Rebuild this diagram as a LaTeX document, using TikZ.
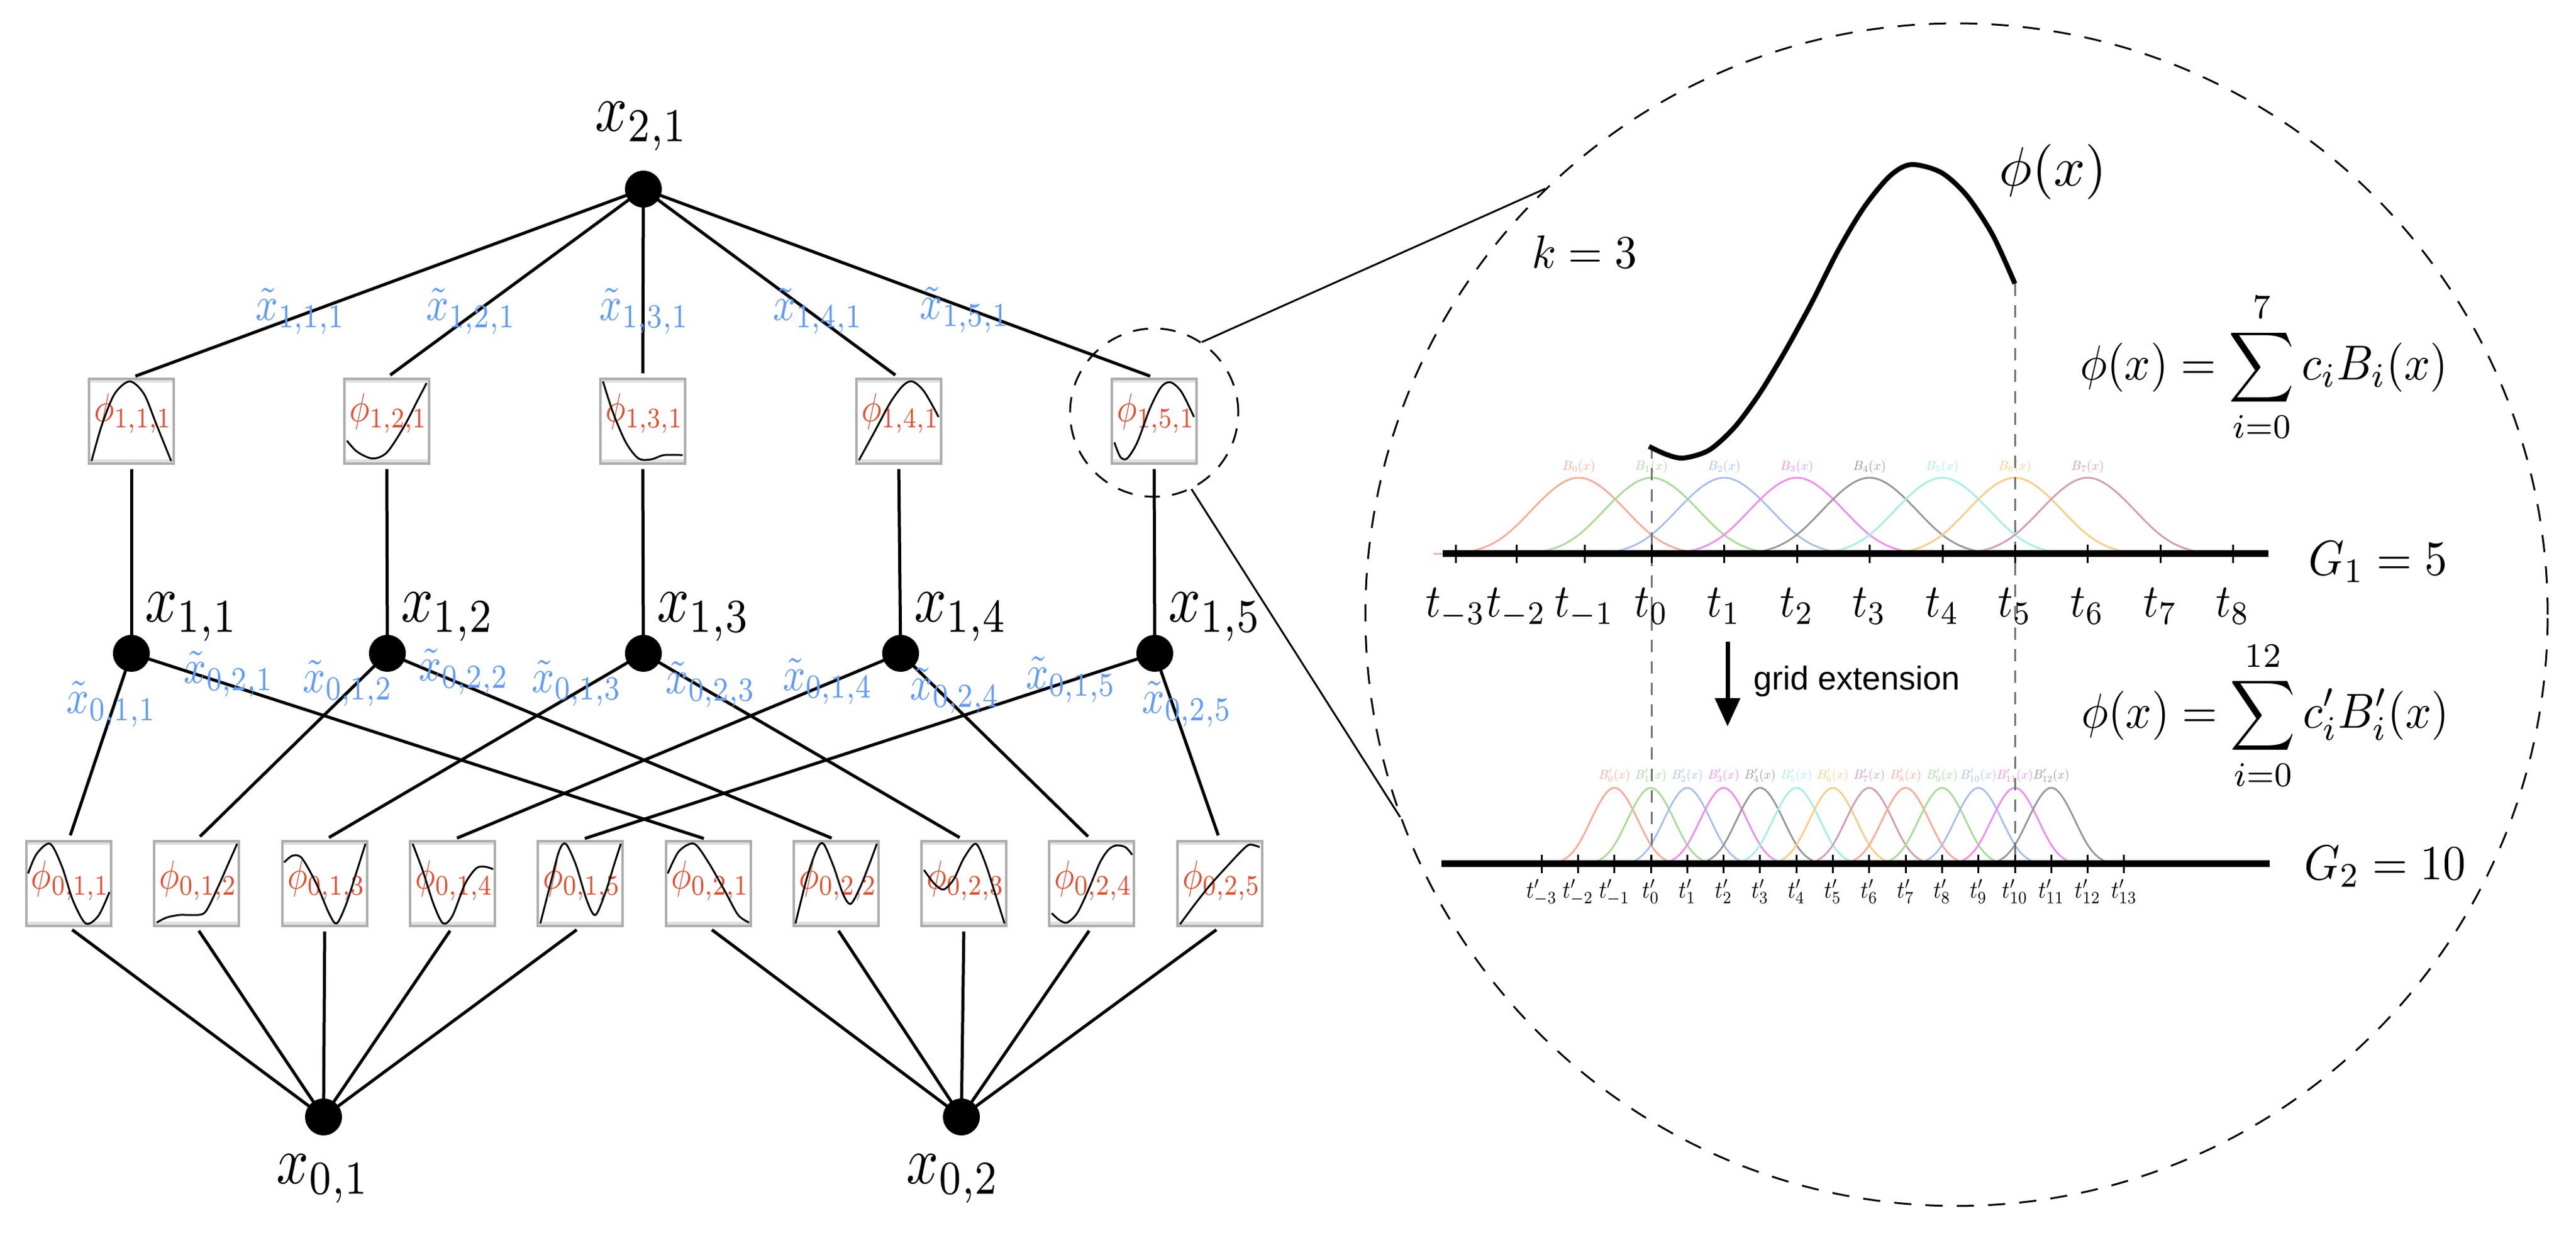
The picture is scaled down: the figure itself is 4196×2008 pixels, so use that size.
\RequirePackage{fix-cm}
\documentclass[tikz,border=0pt]{standalone}
\usepackage{graphicx}
\usepackage{fontspec}
\newfontfamily\helv{Liberation Sans}
\usetikzlibrary{arrows.meta}
\newcommand{\kfs}[1]{\fontsize{#1}{#1}\selectfont}
\newcommand{\sbx}[3]{\scalebox{#1}[#2]{#3}}
\definecolor{kblue}{RGB}{95,155,250}
\definecolor{kred}{RGB}{230,75,45}
\definecolor{bc0}{RGB}{250,170,150}
\definecolor{bc1}{RGB}{165,220,150}
\definecolor{bc2}{RGB}{165,190,240}
\definecolor{bc3}{RGB}{240,140,240}
\definecolor{bc4}{RGB}{150,150,150}
\definecolor{bc5}{RGB}{160,240,230}
\definecolor{bc6}{RGB}{250,205,130}
\definecolor{bc7}{RGB}{210,155,180}
\newcommand{\redlab}[1]{\sbx{0.55}{0.66}{$\phi_{#1}$}}
\newcommand{\bluelab}[1]{\sbx{0.64}{0.78}{$\tilde{x}_{#1}$}}
\newcommand{\nodelab}[1]{\sbx{0.92}{1.1}{$x_{#1}$}}
\newcommand{\rtx}[1]{\sbx{0.74}{0.8}{$\displaystyle #1$}}
\newcommand{\kanbox}[6]{%
  \node[kbox] (#1) at (#2,#3) {};
  \fill[boxband] (#2-68,#3-68) rectangle (#2+68,#3-63);
  \fill[boxband] (#2-68,#3+62) rectangle (#2+68,#3+68);
  \draw[boxframe] (#2-69,#3-69) rectangle (#2+69,#3+69);
  \node[boxlab,anchor=west] (#1l) at (#2-63,#3-#5) {\redlab{#4}};
  \draw[boxcurve,shift={(#2-69,#3+69)},x=13.8pt,y=13.8pt] plot[smooth] coordinates {#6};
}
\begin{document}
\begin{tikzpicture}[x=0.1pt,y=-0.1pt,
  declare function={bsp(\u)=(abs(\u)<1) ? (2/3-\u*\u+abs(\u)*abs(\u)*abs(\u)/2) : ((2-abs(\u))*(2-abs(\u))*(2-abs(\u))/6);},
  dot/.style={circle,fill=black,inner sep=0pt,minimum size=6pt},
  kbox/.style={fill=white,inner sep=0pt,minimum size=13.8pt},
  boxband/.style={black!12},
  boxframe/.style={draw=black!32,line width=0.4pt},
  boxlab/.style={text=kred,inner sep=0pt},
  boxcurve/.style={line width=0.3pt,black},
  nlab/.style={inner sep=0pt},
  elab/.style={text=kblue,inner sep=0pt},
  link/.style={line width=0.5pt},
  ring/.style={draw,circle,dash pattern=on 2.5pt off 2pt,line width=0.3pt,inner sep=0pt},
  thin link/.style={line width=0.3pt},
  phicurve/.style={line width=0.8pt},
  bump/.style={line width=0.28pt},
  blab/.style={inner sep=0pt},
  axisline/.style={line width=1.1pt},
  tickmark/.style={line width=0.3pt},
  tlab/.style={inner sep=0pt},
  gline/.style={black!55,line width=0.3pt,dash pattern=on 2pt off 1.5pt},
  rtext/.style={inner sep=0pt}]
\fill[white] (0,0) rectangle (4196,2008);
\useasboundingbox (0,0) rectangle (4196,2008);

% ---------- top boxes ----------
\kanbox{t1}{214}{686}{1,1,1}{13}{(0.03,0.03) (0.15,0.45) (0.3,0.82) (0.48,0.97) (0.65,0.82) (0.8,0.45) (0.97,0.03)}
\kanbox{t2}{630}{686}{1,2,1}{13}{(0.03,0.27) (0.15,0.14) (0.33,0.06) (0.5,0.13) (0.7,0.43) (0.85,0.72) (0.97,0.95)}
\kanbox{t3}{1047}{686}{1,3,1}{13}{(0.03,0.97) (0.15,0.6) (0.3,0.25) (0.45,0.06) (0.6,0.05) (0.75,0.1) (0.97,0.1)}
\kanbox{t4}{1464}{686}{1,4,1}{13}{(0.03,0.04) (0.2,0.35) (0.4,0.72) (0.55,0.92) (0.66,0.97) (0.8,0.85) (0.97,0.55)}
\kanbox{t5}{1880}{686}{1,5,1}{13}{(0.03,0.25) (0.1,0.08) (0.18,0.06) (0.3,0.25) (0.45,0.65) (0.58,0.9) (0.69,0.96) (0.82,0.85) (0.97,0.55)}

% ---------- bottom boxes ----------
\kanbox{b1}{112}{1439}{0,1,1}{5}{(0.02,0.62) (0.12,0.85) (0.28,0.97) (0.42,0.7) (0.55,0.3) (0.7,0.03) (0.85,0.12) (0.98,0.4)}
\kanbox{b2}{320}{1439}{0,1,2}{5}{(0.03,0.04) (0.15,0.1) (0.3,0.13) (0.45,0.13) (0.6,0.16) (0.75,0.45) (0.87,0.72) (0.98,0.97)}
\kanbox{b3}{529}{1439}{0,1,3}{5}{(0.02,0.75) (0.12,0.83) (0.23,0.8) (0.4,0.5) (0.55,0.15) (0.64,0.03) (0.75,0.25) (0.87,0.62) (0.98,0.97)}
\kanbox{b4}{737}{1439}{0,1,4}{5}{(0.03,0.97) (0.15,0.65) (0.28,0.25) (0.39,0.03) (0.5,0.12) (0.65,0.5) (0.78,0.68) (0.88,0.7) (0.98,0.67)}
\kanbox{b5}{945}{1439}{0,1,5}{5}{(0.03,0.03) (0.15,0.5) (0.25,0.88) (0.33,0.97) (0.45,0.72) (0.58,0.3) (0.68,0.13) (0.8,0.4) (0.9,0.72) (0.98,0.97)}
\kanbox{b6}{1154}{1439}{0,2,1}{5}{(0.02,0.62) (0.15,0.88) (0.33,0.97) (0.5,0.75) (0.7,0.4) (0.85,0.13) (0.98,0.04)}
\kanbox{b7}{1362}{1439}{0,2,2}{5}{(0.02,0.03) (0.15,0.55) (0.27,0.9) (0.35,0.97) (0.47,0.7) (0.58,0.38) (0.67,0.26) (0.78,0.45) (0.9,0.75) (0.98,0.97)}
\kanbox{b8}{1570}{1439}{0,2,3}{5}{(0.03,0.66) (0.15,0.5) (0.26,0.43) (0.38,0.55) (0.5,0.8) (0.64,0.97) (0.75,0.75) (0.87,0.38) (0.98,0.03)}
\kanbox{b9}{1778}{1439}{0,2,4}{5}{(0.03,0.15) (0.12,0.07) (0.21,0.04) (0.33,0.15) (0.46,0.42) (0.6,0.75) (0.7,0.9) (0.79,0.95) (0.9,0.93) (0.98,0.84)}
\kanbox{b10}{1987}{1439}{0,2,5}{5}{(0.03,0.02) (0.2,0.25) (0.4,0.5) (0.6,0.72) (0.75,0.88) (0.85,0.96) (0.97,0.93)}

% ---------- dots and labels ----------
\node[dot] (x21) at (1048,308) {};
\node[nlab] (x21l) at (1046,206) {\nodelab{2,1}};
\foreach \j/\xx in {1/214,2/631,3/1048,4/1467,5/1881}{
  \node[dot] (m\j) at (\xx,1064) {};
  \node[nlab,anchor=west] (ml\j) at (\xx+20,1005) {\nodelab{1,\j}};
}
\node[dot] (x01) at (527,1819) {};
\node[dot] (x02) at (1566,1819) {};
\node[nlab] (x01l) at (527,1920) {\nodelab{0,1}};
\node[nlab] (x02l) at (1553,1920) {\nodelab{0,2}};

% ---------- edges ----------
\foreach \j in {1,...,5}{
  \draw[link,shorten >=0.7pt] (x21.center) -- (t\j.north);
  \draw[link,shorten <=0.7pt] (t\j.south) -- (m\j.center);
}
\foreach \j in {1,...,5}{
  \pgfmathtruncatemacro\kk{\j+5}
  \draw[link,shorten >=0.8pt] (m\j.center) -- (b\j.north);
  \draw[link,shorten >=0.8pt] (m\j.center) -- (b\kk.north);
}
\foreach \j in {1,...,5} \draw[link,shorten <=0.7pt] (b\j.south) -- (x01.center);
\foreach \j in {6,...,10} \draw[link,shorten <=0.7pt] (b\j.south) -- (x02.center);

% ---------- edge labels ----------
\node[elab] (e111) at (490,507) {\bluelab{1,1,1}};
\node[elab] (e121) at (768,507) {\bluelab{1,2,1}};
\node[elab] (e131) at (1050,507) {\bluelab{1,3,1}};
\node[elab] (e141) at (1333,507) {\bluelab{1,4,1}};
\node[elab] (e151) at (1572,505) {\bluelab{1,5,1}};
\node[elab] (e011) at (182,1147) {\bluelab{0,1,1}};
\node[elab] (e021) at (373,1098) {\bluelab{0,2,1}};
\node[elab] (e012) at (567,1113) {\bluelab{0,1,2}};
\node[elab] (e022) at (756,1094) {\bluelab{0,2,2}};
\node[elab] (e013) at (940,1113) {\bluelab{0,1,3}};
\node[elab] (e023) at (1158,1115) {\bluelab{0,2,3}};
\node[elab] (e014) at (1349,1110) {\bluelab{0,1,4}};
\node[elab] (e024) at (1556,1125) {\bluelab{0,2,4}};
\node[elab] (e015) at (1745,1107) {\bluelab{0,1,5}};
\node[elab] (e025) at (1934,1147) {\bluelab{0,2,5}};

% ---------- zoom rings ----------
\node[ring,minimum size=27.4pt] (zc) at (1880,672) {};
\node[ring,minimum size=192.6pt,dash pattern=on 2.8pt off 2.3pt] (bc) at (3187,1001) {};
\draw[thin link] (zc.56) -- (bc.134.7);
\draw[thin link] (zc.-64) -- (bc.200);

% ---------- B-splines G1 ----------
\foreach \i in {0,...,7}{
  \pgfmathsetmacro\cx{2690+118.4*(\i-1)}
  \pgfmathtruncatemacro\ci{mod(\i,8)}
  \draw[bump,bc\ci] plot[domain=-2:2,samples=41,smooth] ({\cx+118.4*\x},{902-186*bsp(\x)});
  \node[blab,text=bc\ci] (bla\i) at (\cx,760) {\sbx{0.21}{0.21}{$B_{\i}(x)$}};
}
% ---------- B-splines G2 ----------
\foreach \i in {0,...,12}{
  \pgfmathsetmacro\cx{2689+59.3*(\i-1)}
  \pgfmathtruncatemacro\ci{mod(\i,8)}
  \draw[bump,bc\ci] plot[domain=-2:2,samples=41,smooth] ({\cx+59.3*\x},{1407-186*bsp(\x)});
  \node[blab,text=bc\ci] (blb\i) at (\cx,1263) {\sbx{0.2}{0.21}{$B'_{\i}(x)$}};
}

% dashed guides
\draw[gline] (2690,727) -- (2690,1407);
\draw[gline] (3282,462) -- (3282,1407);

% axes
\draw[axisline] (2350,902) -- (3695,902);
\draw[axisline] (2348,1407) -- (3697,1407);
\foreach \n/\p [count=\k] in {-3/2371,-2/2470,-1/2581,0/2690,1/2808,2/2927,3/3045,4/3164,5/3282,6/3400,7/3519,8/3637}{
  \draw[tickmark] (\p,887) -- (\p,917);
  \node[tlab,anchor=north] (ta\k) at (\p,956) {\sbx{0.68}{0.76}{$t_{\n}$}};
}
\foreach \n [count=\k] in {-3,...,13}{
  \pgfmathsetmacro\p{2689+59.3*\n}
  \draw[tickmark] (\p,1392) -- (\p,1422);
  \node[tlab,anchor=north] (tb\k) at (\p,1430) {\sbx{0.35}{0.4}{$t'_{\n}$}};
}

% phi curve
\draw[phicurve] plot[smooth] coordinates {(2686,727) (2714,740) (2742,746) (2784,733) (2826,695) (2868,638) (2910,568) (2952,491) (2994,408) (3036,338) (3078,287) (3113,268) (3162,281) (3204,319) (3246,383) (3282,462)};

% texts
\node[rtext] (phl) at (3344,280) {\sbx{0.9}{0.9}{$\phi(x)$}};
\node[rtext] (k3) at (2581,410) {\sbx{0.72}{0.76}{$k=3$}};
\node[rtext,anchor=base west] (f1) at (3386,619) {\rtx{\phi(x)=\sum_{i=0}^{7}c_iB_i(x)}};
\node[rtext,anchor=base west] (f2) at (3388,1186) {\rtx{\phi(x)=\sum_{i=0}^{12}c'_iB'_i(x)}};
\node[rtext,anchor=base west] (g1) at (3758,937) {\rtx{G_1=5}};
\node[rtext,anchor=base west] (g2) at (3751,1433) {\rtx{G_2=10}};
\coordinate (ga) at (2814,1045);
\coordinate (gb) at (2814,1183);
\draw[line width=0.7pt,-{Triangle[length=4.6pt,width=4pt]}] (ga) -- (gb);
\node[inner sep=0pt,font={\helv\kfs{5.4}}] (ge) at (3025,1110) {grid extension};
\end{tikzpicture}
\end{document}
